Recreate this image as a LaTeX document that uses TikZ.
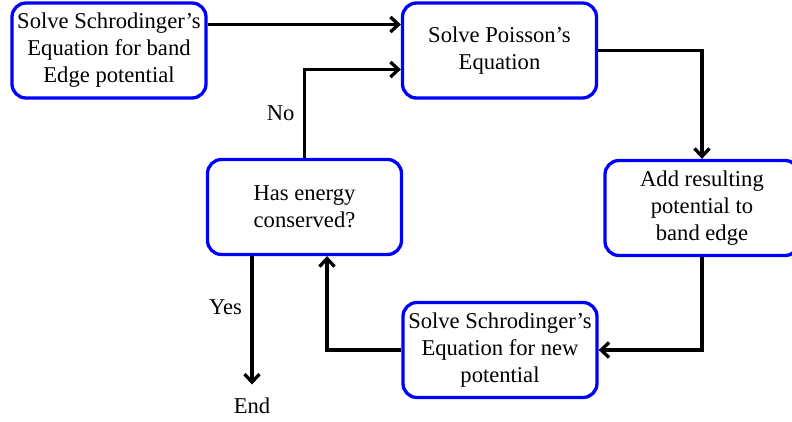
\documentclass[tikz,border=0pt]{standalone}
\usepackage{fontspec}
\setmainfont{Liberation Serif}
\usetikzlibrary{arrows.meta}

\tikzset{
  txt/.style={font=\fontsize{22.6}{27}\selectfont},
  stepbox/.style={txt,draw=blue,line width=3.3pt,rounded corners=14pt,
    minimum width=194pt,minimum height=95pt,align=center,inner sep=2pt},
  flow/.style={line width=3.3pt,-{Straight Barb[length=8pt,width=15pt]}}
}

\begin{document}
\begin{tikzpicture}[x=1pt,y=-1pt]
\useasboundingbox (0,0) rectangle (792,422);
% boxes
\node[stepbox] (schrA) at (109,50.5) {Solve Schrodinger’s\\Equation for band\\Edge potential};
\node[stepbox] (poisson) at (499.5,50.5) {Solve Poisson’s\\Equation};
\node[stepbox] (addpot) at (702,208) {Add resulting\\potential to\\band edge};
\node[stepbox] (check) at (304.5,207) {Has energy\\conserved?};
\node[stepbox] (schrB) at (500,350) {Solve Schrodinger’s\\Equation for new\\potential};
\node[txt] (fin) at (252,406) {End};
% connectors
\draw[flow] ([yshift=26pt]schrA.east) -- ([yshift=26pt]schrA.east -| poisson.west);
\draw[flow] (check.north) |- node[txt,pos=0.25,left=5pt] {No} ([yshift=-19pt]poisson.west);
\draw[flow] (poisson.east) -| (addpot.north);
\draw[flow] (addpot.south) |- (schrB.east);
\draw[flow] (schrB.west) -| ([xshift=22.5pt]check.south);
\draw[flow] ([xshift=-52.5pt]check.south) -- node[txt,pos=0.4,left=5pt] {Yes} ([yshift=10pt]fin.north);
\end{tikzpicture}
\end{document}
